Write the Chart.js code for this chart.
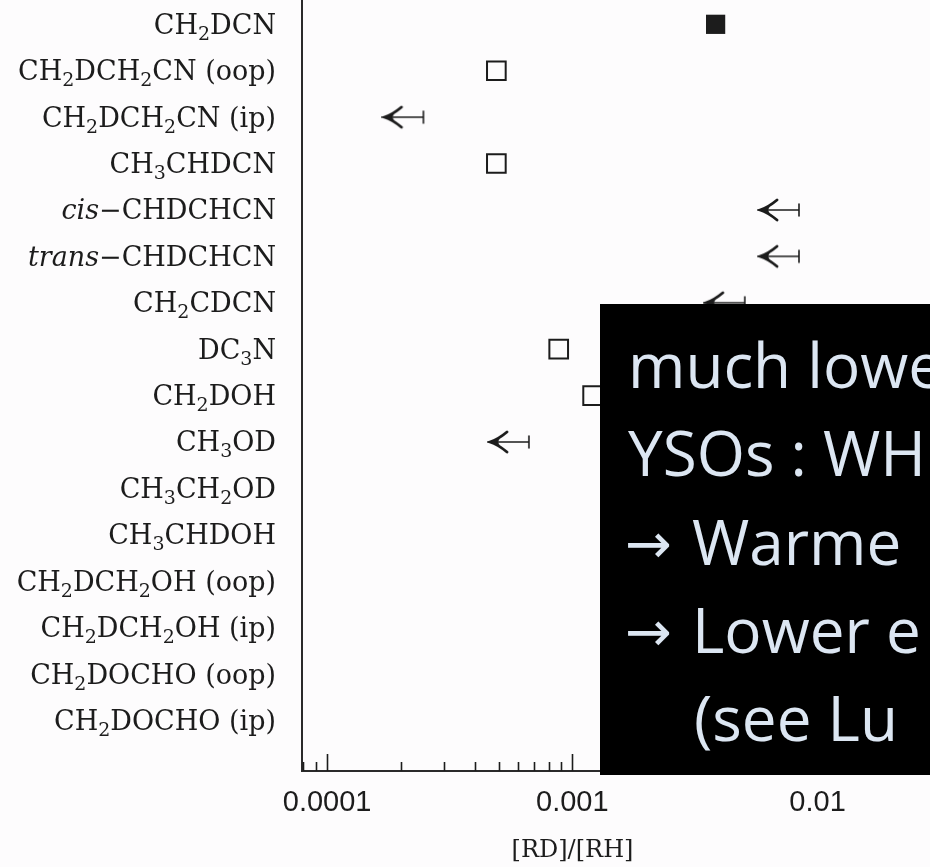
<!DOCTYPE html>
<html>
<head>
<meta charset="utf-8">
<script src="https://cdn.jsdelivr.net/npm/chart.js@4.4.1/dist/chart.umd.min.js"></script>
<style>
  html, body { margin: 0; padding: 0; background: #fdfcfd; overflow: hidden; }
  #wrap { width: 930px; height: 867px; position: relative; }
</style>
</head>
<body>
<div id="wrap"><canvas id="ratioChart" width="930" height="867"></canvas></div>
<script>
// Deuterium fractionation ratios, one row per molecule (top to bottom)
const molecules = [
    'CH₂DCN',
    'CH₂DCH₂CN (oop)',
    'CH₂DCH₂CN (ip)',
    'CH₃CHDCN',
    'cis−CHDCHCN',
    'trans−CHDCHCN',
    'CH₂CDCN',
    'DC₃N',
    'CH₂DOH',
    'CH₃OD',
    'CH₃CH₂OD',
    'CH₃CHDOH',
    'CH₂DCH₂OH (oop)',
    'CH₂DCH₂OH (ip)',
    'CH₂DOCHO (oop)',
    'CH₂DOCHO (ip)'
];

// [RD]/[RH] values (null = no visible mark)
const filledSquare = [0.00384, null, null, null, null, null, null, null, null, null, null, null, null, null, null, null];
const openSquare   = [null, 0.00049, null, 0.00049, null, null, null, 0.00088, 0.00121, null, null, null, null, null, null, null];
const upperLimit   = [null, null, 0.000247, null, 0.0084, 0.0084, 0.00505, null, null, 0.000665, null, null, null, null, null, null];

// x axis
const xTickValues = [0.0001, 0.001, 0.01];
const xTickLabels = ['0.0001', '0.001', '0.01'];
const xMin = 7.9e-5;
const xMax = 0.0127;

// overlay text box
const boxLines = ['much lowe', 'YSOs : WH', '→ Warme', '→ Lower e', '(see Lu'];

const SUBS = '₀₁₂₃₄₅₆₇₈₉';
const INK = '#1c1c1c';

function toPoints(values) {
    const pts = [];
    values.forEach((v, i) => {
        if (v !== null) pts.push({ x: v, y: i });
    });
    return pts;
}

// "←|" upper limit symbol, bar sits at the image centre (= the value)
function makeLimitArrow() {
    const c = document.createElement('canvas');
    c.width = 84;
    c.height = 28;
    const g = c.getContext('2d');
    const cx = 42, cy = 14, tip = 3;
    g.strokeStyle = INK;
    g.fillStyle = INK;
    g.lineCap = 'round';
    g.lineWidth = 1.6;
    g.beginPath();
    g.moveTo(tip + 2, cy);
    g.lineTo(cx, cy);
    g.moveTo(cx, cy - 6);
    g.lineTo(cx, cy + 6);
    g.stroke();
    g.lineWidth = 2.8;
    g.beginPath();
    g.moveTo(tip + 17, cy - 10);
    g.quadraticCurveTo(tip + 8, cy - 2.5, tip, cy);
    g.quadraticCurveTo(tip + 8, cy + 2.5, tip + 17, cy + 10);
    g.stroke();
    g.beginPath();
    g.moveTo(tip, cy);
    g.lineTo(tip + 10, cy - 4);
    g.lineTo(tip + 8, cy);
    g.lineTo(tip + 10, cy + 4);
    g.closePath();
    g.fill();
    return c;
}

// molecule label with italic prefix and real subscripts
function drawMolecule(ctx, text, xRight, baseline) {
    const dash = text.indexOf('−');
    const runs = [];
    for (let i = 0; i < text.length; i++) {
        const s = SUBS.indexOf(text[i]);
        const style = s >= 0 ? 'sub' : (dash > 0 && i < dash ? 'it' : 'rm');
        const ch = s >= 0 ? String(s) : text[i];
        const last = runs[runs.length - 1];
        if (last && last.style === style) last.text += ch;
        else runs.push({ style, text: ch });
    }
    const fonts = {
        rm: '27px "DejaVu Serif"',
        it: 'italic 27px "DejaVu Serif"',
        sub: '19px "DejaVu Serif"'
    };
    let total = 0;
    runs.forEach(r => {
        ctx.font = fonts[r.style];
        r.w = ctx.measureText(r.text).width;
        total += r.w;
    });
    let x = xRight - total;
    runs.forEach(r => {
        ctx.font = fonts[r.style];
        ctx.fillText(r.text, x, r.style === 'sub' ? baseline + 6 : baseline);
        x += r.w;
    });
}

const moleculeLabels = {
    id: 'moleculeLabels',
    afterDraw(chart) {
        const ctx = chart.ctx;
        const yScale = chart.scales.y;
        ctx.save();
        ctx.fillStyle = INK;
        ctx.textAlign = 'left';
        ctx.textBaseline = 'alphabetic';
        molecules.forEach((m, i) => {
            drawMolecule(ctx, m, 276, yScale.getPixelForValue(i) + 9.5);
        });
        ctx.restore();
    }
};

// tick marks pointing into the plot
const innerTicks = {
    id: 'innerTicks',
    afterDatasetsDraw(chart) {
        const ctx = chart.ctx;
        const xScale = chart.scales.x;
        const bottom = chart.chartArea.bottom;
        ctx.save();
        ctx.strokeStyle = INK;
        ctx.lineWidth = 1.6;
        ctx.beginPath();
        xScale.ticks.forEach(t => {
            const px = Math.round(xScale.getPixelForValue(t.value)) + 0.5;
            const len = xTickValues.includes(t.value) ? 17 : 9;
            ctx.moveTo(px, bottom);
            ctx.lineTo(px, bottom - len);
        });
        ctx.stroke();
        ctx.restore();
    }
};

// black text panel laid over the right side
const textPanel = {
    id: 'textPanel',
    afterDraw(chart) {
        const ctx = chart.ctx;
        ctx.save();
        ctx.fillStyle = '#000';
        ctx.fillRect(600, 304, 340, 471);
        ctx.fillStyle = '#dce6f2';
        ctx.textBaseline = 'alphabetic';
        ctx.textAlign = 'left';
        boxLines.forEach((line, i) => {
            const base = 388 + i * 88.3;
            if (line.startsWith('→')) {
                ctx.font = '56px "DejaVu Sans"';
                ctx.fillText('→', 625, base - 2);
                ctx.font = '62px "Open Sans"';
                ctx.fillText(line.slice(2), 692, base);
            } else if (line.startsWith('(')) {
                ctx.font = '62px "Open Sans"';
                ctx.fillText(line, 694, base);
            } else {
                ctx.font = '62px "Open Sans"';
                ctx.fillText(line, 628, base);
            }
        });
        ctx.restore();
    }
};

const limitArrow = makeLimitArrow();

new Chart(document.getElementById('ratioChart'), {
    type: 'scatter',
    data: {
        datasets: [
            {
                label: 'filled',
                data: toPoints(filledSquare),
                pointStyle: 'rect',
                pointRadius: 13.6,
                backgroundColor: INK,
                borderColor: INK,
                borderWidth: 0
            },
            {
                label: 'open',
                data: toPoints(openSquare),
                pointStyle: 'rect',
                pointRadius: 13.2,
                backgroundColor: '#fdfcfd',
                borderColor: INK,
                borderWidth: 2
            },
            {
                label: 'upper limit',
                data: toPoints(upperLimit),
                pointStyle: limitArrow,
                pointRadius: 10
            }
        ]
    },
    options: {
        responsive: false,
        animation: false,
        events: [],
        layout: { autoPadding: false, padding: { left: 0, top: 0, right: 87, bottom: 0 } },
        plugins: {
            legend: { display: false },
            tooltip: { enabled: false }
        },
        scales: {
            x: {
                type: 'logarithmic',
                min: xMin,
                max: xMax,
                afterFit: scale => { scale.height = 96; },
                afterBuildTicks: axis => {
                    const ticks = [];
                    for (let e = -5; e <= -2; e++) {
                        for (let m = 1; m <= 9; m++) {
                            const v = parseFloat((m * Math.pow(10, e)).toPrecision(6));
                            if (v >= xMin && v <= xMax) ticks.push({ value: v, major: m === 1 });
                        }
                    }
                    axis.ticks = ticks;
                },
                grid: { display: true, drawOnChartArea: false, drawTicks: false },
                border: { display: true, color: '#2a2a2a', width: 2 },
                ticks: {
                    autoSkip: false,
                    maxRotation: 0,
                    padding: 15,
                    color: INK,
                    font: { family: '"Liberation Sans"', size: 29 },
                    callback: value => {
                        const k = xTickValues.findIndex(v => Math.abs(v - value) < v * 1e-6);
                        return k >= 0 ? xTickLabels[k] : '';
                    }
                },
                title: {
                    display: true,
                    text: '[RD]/[RH]',
                    color: INK,
                    font: { family: '"DejaVu Serif"', size: 24 },
                    padding: { top: 0, bottom: 2 }
                }
            },
            y: {
                type: 'linear',
                reverse: true,
                min: -0.524,
                max: 16.09,
                afterFit: scale => {
                    scale.width = 302;
                    scale.paddingTop = 0;
                    scale.paddingBottom = 0;
                },
                afterBuildTicks: axis => {
                    axis.ticks = molecules.map((m, i) => ({ value: i }));
                },
                grid: { display: true, drawOnChartArea: false, drawTicks: false },
                border: { display: true, color: '#2a2a2a', width: 2 },
                ticks: { display: false }
            }
        }
    },
    plugins: [innerTicks, moleculeLabels, textPanel]
});
</script>
</body>
</html>
